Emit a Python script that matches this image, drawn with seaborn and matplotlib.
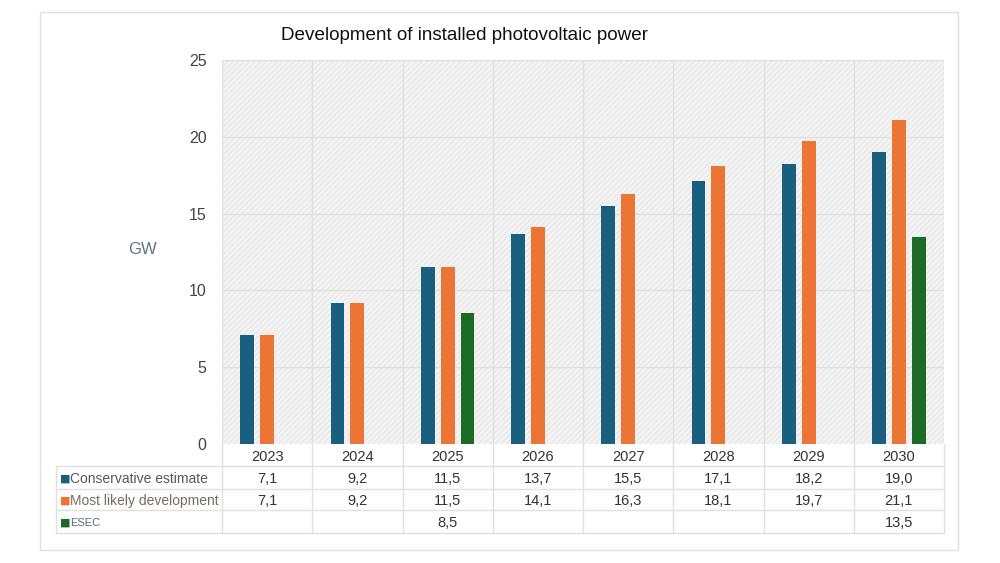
import numpy as np
import pandas as pd
import matplotlib
matplotlib.use("Agg")
import matplotlib.pyplot as plt
from matplotlib.patches import Rectangle
from matplotlib.lines import Line2D
import seaborn as sns

years = ["2023", "2024", "2025", "2026", "2027", "2028", "2029", "2030"]
series_names = ["Conservative estimate", "Most likely development", "ESEC"]
conservative = [7.1, 9.2, 11.5, 13.7, 15.5, 17.1, 18.2, 19.0]
most_likely = [7.1, 9.2, 11.5, 14.1, 16.3, 18.1, 19.7, 21.1]
esec = [np.nan, np.nan, 8.5, np.nan, np.nan, np.nan, np.nan, 13.5]
colors = ["#1b5f7f", "#ec7535", "#1c6b25"]
title = "Development of installed photovoltaic power"
y_label = "GW"
y_ticks = [0, 5, 10, 15, 20, 25]

series_values = [conservative, most_likely, esec]
rows = []
for name, vals in zip(series_names, series_values):
    for y, v in zip(years, vals):
        rows.append({"year": y, "series": name, "value": v})
df = pd.DataFrame(rows).dropna()

sns.set_theme(style="white")
plt.rcParams["font.family"] = ["Liberation Sans", "DejaVu Sans"]
plt.rcParams["hatch.linewidth"] = 0.6

fig = plt.figure(figsize=(10, 5.63), dpi=100)
ax = fig.add_axes([0.222, 0.2114, 0.722, 0.682])

# hatched background
bg = Rectangle((0, 0), 1, 1, transform=ax.transAxes, facecolor="#f3f3f3",
               edgecolor="#e3e3e3", hatch="//////", linewidth=0, zorder=0)
ax.add_patch(bg)

sns.barplot(data=df, x="year", y="value", hue="series", order=years,
            hue_order=series_names, palette=colors, width=0.66, gap=0.3,
            dodge=True, errorbar=None, saturation=1, legend=False, ax=ax,
            linewidth=0, zorder=3)

ax.set_xlim(-0.5, len(years) - 0.5)
ax.set_ylim(0, 25)
ax.set_yticks(y_ticks)
ax.set_yticklabels([str(t) for t in y_ticks], fontsize=11.5, color="#444444")
ax.tick_params(axis="y", length=0, pad=11)
ax.set_xticks([])
ax.set_xlabel("")
ax.set_ylabel("")
for t in y_ticks[1:]:
    ax.axhline(t, color="#e0e0e0", lw=1, zorder=1)
for i in range(len(years) + 1):
    ax.axvline(i - 0.5, color="#e0e0e0", lw=1, zorder=1)
for s in ax.spines.values():
    s.set_visible(False)

fig.text(0.128, 1 - 250 / 563, y_label, fontsize=12, color="#5a7590",
         ha="left", va="center")
fig.text(0.4645, 1 - 36 / 563, title, fontsize=13.6, color="#111111",
         ha="center", va="center")

# table below the axes
ax_h = 384.0
def yax(px):
    return -(px - 444) / ax_h

row_edges = [466, 489, 510, 533]
trans = ax.get_xaxis_transform()
line_kw = dict(color="#e0e0e0", lw=1, clip_on=False)
for py in row_edges:
    fig.add_artist(Line2D([0.056, 0.944], [1 - py / 563] * 2, **line_kw))
for i in range(len(years) + 1):
    ax.plot([i - 0.5, i - 0.5], [0, yax(533)], transform=trans, **line_kw)
fig.add_artist(Line2D([0.056, 0.056], [1 - 466 / 563, 1 - 533 / 563], **line_kw))

for i, y in enumerate(years):
    ax.text(i, yax(456), y, transform=trans, ha="center", va="center_baseline",
            fontsize=10.5, color="#333333", clip_on=False)

label_colors = ["#5e5266", "#7a6a60", "#5a6a80"]
label_sizes = [10, 10, 8]
row_centers = [(466 + 489) / 2, (489 + 510) / 2, (510 + 533) / 2]
for r, (name, vals) in enumerate(zip(series_names, series_values)):
    yc = 1 - row_centers[r] / 563
    fig.text(0.060, yc, "\u25A0", color=colors[r], fontsize=8,
             family="DejaVu Sans", ha="left", va="center_baseline")
    fig.text(0.070, yc, name, color=label_colors[r], fontsize=label_sizes[r],
             ha="left", va="center_baseline")
    for i, v in enumerate(vals):
        if not np.isnan(v):
            ax.text(i, yax(row_centers[r]), f"{v:.1f}".replace(".", ","),
                    transform=trans, ha="center", va="center_baseline",
                    fontsize=10.5, color="#333333", clip_on=False)

# outer frame
fig.add_artist(Rectangle((0.040, 1 - 550 / 563), 0.918, (550 - 12) / 563,
                         transform=fig.transFigure, fill=False,
                         edgecolor="#e0e0e0", lw=1))

fig.savefig("out.png", dpi=100, facecolor="white")
